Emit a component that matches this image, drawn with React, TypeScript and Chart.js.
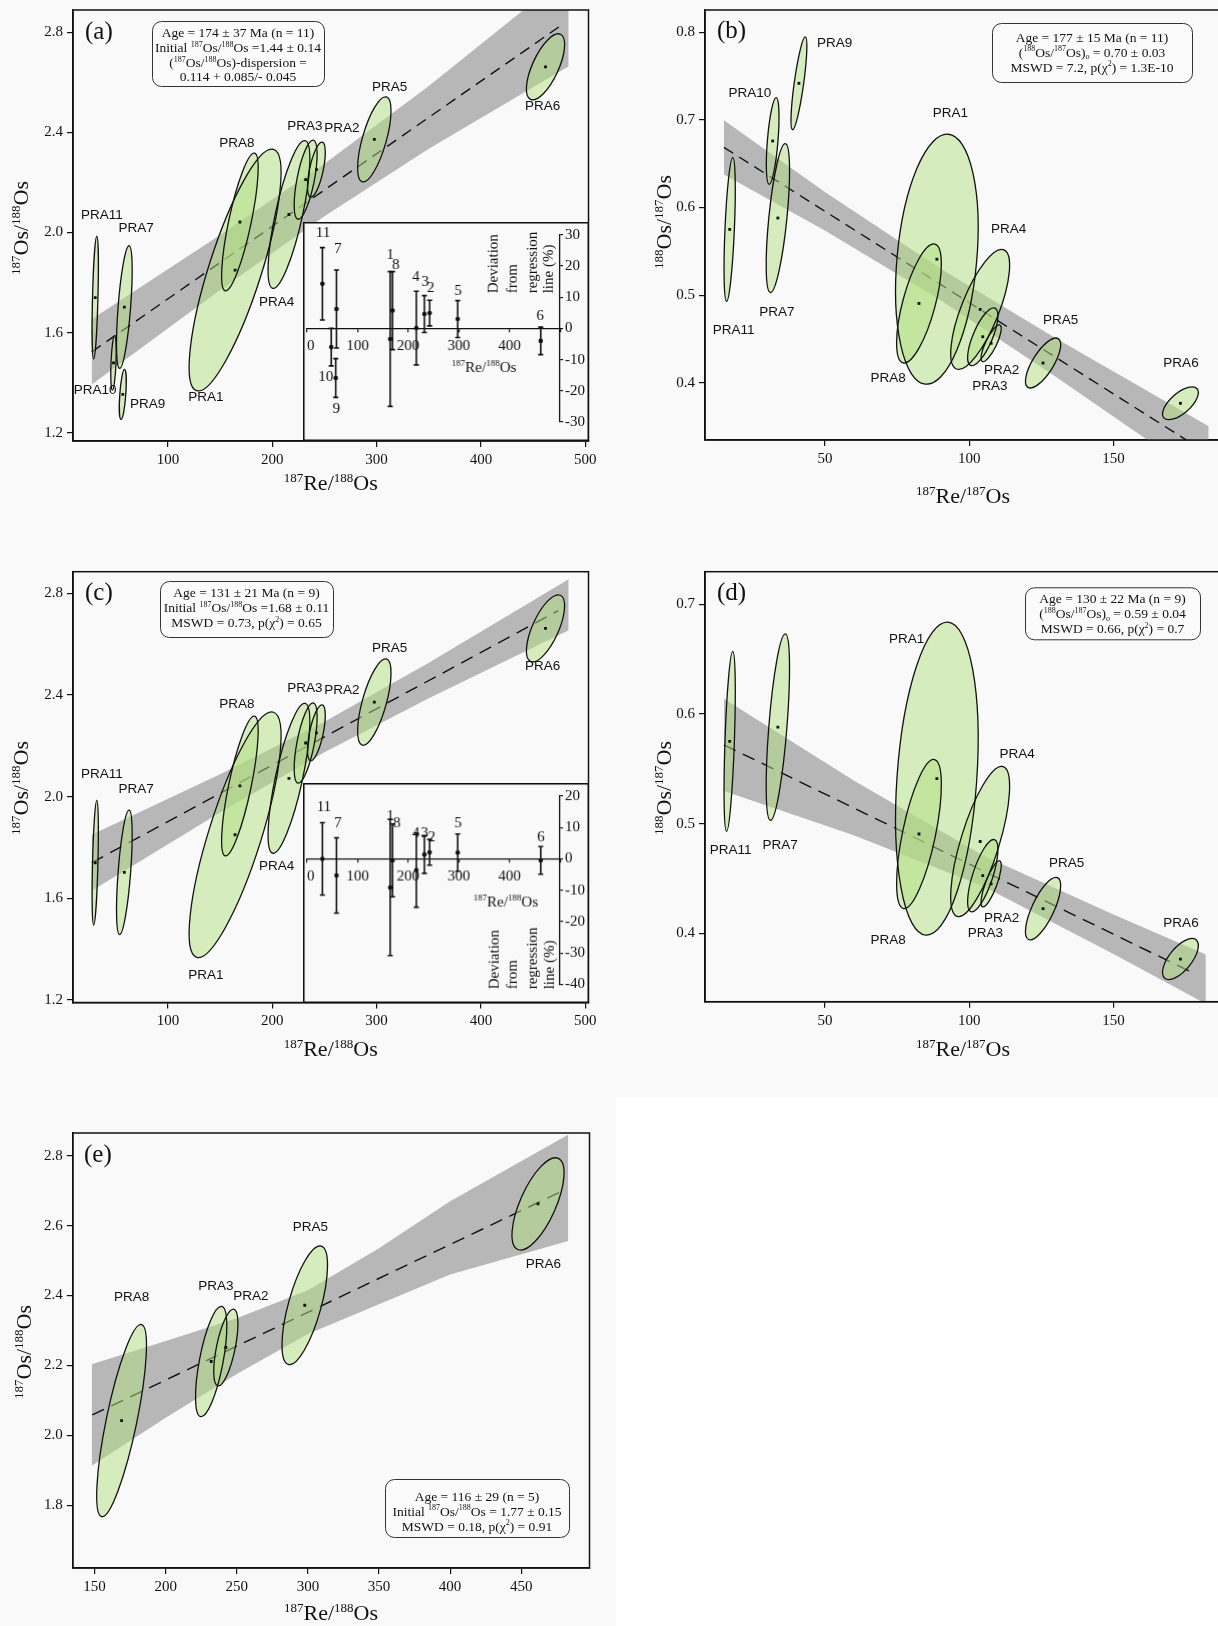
import React, { useEffect, useRef } from 'react';
import { Chart, registerables } from 'chart.js';

Chart.register(...registerables);

const BG = '#f9f9f9';
const INK = '#111111';
const BAND = '#b7b7b7';
const ELL_FILL = 'rgba(178, 224, 130, 0.5)';
const SERIF = '"Liberation Serif", "Times New Roman", Times, serif';
const SANS = '"Liberation Sans", Arial, Helvetica, sans-serif';

// ---------------- sample data ----------------
const sampleNames = ['PRA1', 'PRA2', 'PRA3', 'PRA4', 'PRA5', 'PRA6', 'PRA7', 'PRA8', 'PRA9', 'PRA10', 'PRA11'];

// 187Re/188Os vs 187Os/188Os (panels a, c, e)
const re188 = [164.4, 242.3, 232.0, 216.0, 297.8, 461.8, 58.3, 169.0, 56.8, 47.9, 30.4];
const os187to188 = [1.85, 2.251, 2.211, 2.072, 2.372, 2.662, 1.702, 2.042, 1.353, 1.479, 1.74];
const re188Err = [44, 8.5, 11, 20, 16, 18.3, 7.5, 17.5, 3.3, 2.6, 3.0];
const os187Err = [0.483, 0.11, 0.158, 0.295, 0.17, 0.132, 0.245, 0.275, 0.1, 0.109, 0.245];
const rho188 = [0.8, 0.62, 0.64, 0.75, 0.67, 0.67, 0.6, 0.78, 0.5, 0.4, 0.5];

// 187Re/187Os vs 188Os/187Os (panels b, d)
const re187 = [88.8, 107.6, 104.7, 103.8, 125.6, 173.2, 33.7, 82.6, 41.0, 31.9, 17.0];
const os188to187 = [0.541, 0.445, 0.4525, 0.4837, 0.4225, 0.3765, 0.588, 0.4905, 0.7418, 0.676, 0.575];
const re187Err = [14.3, 3.5, 5.25, 10.2, 6.1, 6.2, 4.05, 7.75, 2.75, 2.2, 1.95];
const os188Err = [0.1427, 0.021, 0.033, 0.0685, 0.0285, 0.0187, 0.085, 0.068, 0.053, 0.0495, 0.082];
const rho187 = [0.25, 0.8, 0.72, 0.73, 0.73, 0.65, 0.63, 0.66, 0.8, 0.55, 0.55];

const allSamples = [0, 1, 2, 3, 4, 5, 6, 7, 8, 9, 10];
const nineSamples = [0, 1, 2, 3, 4, 5, 6, 7, 10];
const fiveSamples = [7, 2, 1, 4, 5];

// tick values
const ticksRe188 = [100, 200, 300, 400, 500];
const ticksOs187 = [1.2, 1.6, 2.0, 2.4, 2.8];
const ticksRe187 = [50, 100, 150];
const ticksOs188B = [0.4, 0.5, 0.6, 0.7, 0.8];
const ticksOs188D = [0.4, 0.5, 0.6, 0.7];
const ticksRe188E = [150, 200, 250, 300, 350, 400, 450];
const ticksOs187E = [1.8, 2.0, 2.2, 2.4, 2.6, 2.8];

// regression lines and confidence bands
const regAX = [27, 479];
const regAY = [1.523, 2.834];
const bandAX = [27, 150, 250, 350, 484];
const bandALo = [1.393, 1.77, 2.065, 2.335, 2.664];
const bandAHi = [1.653, 1.99, 2.275, 2.585, 3.034];

const regBX = [15, 183];
const regBY = [0.6687, 0.3184];
const bandBX = [15, 50, 90, 130, 183];
const bandBLo = [0.6377, 0.5738, 0.4944, 0.4069, 0.2864];
const bandBHi = [0.6997, 0.6178, 0.5304, 0.4509, 0.3504];

const regCX = [27, 474];
const regCY = [1.74, 2.732];
const bandCX = [27, 150, 250, 350, 484];
const bandCLo = [1.63, 1.938, 2.175, 2.387, 2.655];
const bandCHi = [1.85, 2.088, 2.295, 2.527, 2.855];

const regDX = [15, 178.5];
const regDY = [0.5718, 0.3627];
const bandDX = [15, 60, 105, 150, 182];
const bandDLo = [0.5298, 0.4893, 0.4427, 0.3811, 0.3357];
const bandDHi = [0.6138, 0.5393, 0.4707, 0.4171, 0.3807];

const regEX = [148.4, 479.5];
const regEY = [2.058, 2.7];
const bandEX = [148, 200, 250, 300, 350, 400, 483];
const bandELo = [1.913, 2.05, 2.175, 2.29, 2.375, 2.46, 2.556];
const bandEHi = [2.203, 2.27, 2.335, 2.415, 2.535, 2.67, 2.86];

// deviation insets
const devA = [-3.4, 4.9, 4.6, 0.1, 3.0, -4.0, 6.2, 5.7, -15.9, -6.0, 14.3];
const devAErr = [21.6, 4.1, 5.9, 11.8, 5.9, 4.4, 12.5, 12.5, 6.2, 6.0, 11.6];
const devC = [-9.1, 2.1, 1.4, -3.6, 2.0, -0.5, -5.3, -0.5, 0.0];
const devCErr = [21.7, 4.1, 6.0, 11.8, 5.9, 4.4, 12.0, 11.6, 11.5];
const insetNumA = ['1', '2', '3', '4', '5', '6', '7', '8', '9', '10', '11'];
const insetNumC = ['1', '2', '3', '4', '5', '6', '7', '8', '11'];

// annotation positions (data coordinates)
const labelAX = [136.5, 266.7, 231.3, 204.2, 312.5, 459.1, 69.5, 166.2, 80.7, 30.4, 36.7];
const labelAY = [1.34, 2.415, 2.425, 1.721, 2.582, 2.505, 2.015, 2.358, 1.314, 1.37, 2.068];
const labelBX = [93.5, 111.2, 107.2, 113.7, 131.7, 173.4, 33.4, 71.9, 53.4, 24.0, 18.4];
const labelBY = [0.7075, 0.4145, 0.3954, 0.5751, 0.4716, 0.4221, 0.48, 0.405, 0.7874, 0.7303, 0.4601];
const labelCX = [136.5, 266.7, 231.3, 204.2, 312.5, 459.1, 69.5, 166.2, 36.7];
const labelCY = [1.298, 2.42, 2.426, 1.727, 2.584, 2.511, 2.029, 2.365, 2.089];
const labelDX = [78.3, 111.2, 105.6, 116.6, 133.8, 173.4, 34.5, 71.9, 17.3];
const labelDY = [0.668, 0.4137, 0.4, 0.5632, 0.4638, 0.409, 0.48, 0.394, 0.4754];
const labelEX = [176, 235.3, 259.9, 301.8, 465.6];
const labelEY = [2.396, 2.425, 2.399, 2.594, 2.488];
const numAX = [164.8, 244.6, 233.6, 215.4, 298.4, 460.5, 60.9, 175.3, 57.8, 37.1, 31.9];
const numAY = [23.4, 13, 14.8, 16.4, 11.9, 4.1, 25.5, 20.2, -25.9, -15.7, 30.4];
const numCX = [164.6, 246.3, 232.7, 215.2, 298.4, 461.9, 60.8, 177.4, 33.5];
const numCY = [13.6, 6.8, 8.2, 8.0, 11.3, 6.9, 11.3, 11.3, 16.6];

const boxALines = ['Age = 174 ± 37 Ma (n = 11)', 'Initial ^{187}Os/^{188}Os =1.44 ± 0.14', '(^{187}Os/^{188}Os)-dispersion =', '0.114 + 0.085/- 0.045'];
const boxBLines = ['Age = 177 ± 15 Ma (n = 11)', '(^{188}Os/^{187}Os)_{o} = 0.70 ± 0.03', 'MSWD = 7.2, p(χ^{2}) = 1.3E-10'];
const boxCLines = ['Age = 131 ± 21 Ma (n = 9)', 'Initial ^{187}Os/^{188}Os =1.68 ± 0.11', 'MSWD = 0.73, p(χ^{2}) = 0.65'];
const boxDLines = ['Age = 130 ± 22 Ma (n = 9)', '(^{188}Os/^{187}Os)_{o} = 0.59 ± 0.04', 'MSWD = 0.66, p(χ^{2}) = 0.7'];
const boxELines = ['Age = 116 ± 29 (n = 5)', 'Initial ^{187}Os/^{188}Os = 1.77 ± 0.15', 'MSWD = 0.18, p(χ^{2}) = 0.91'];
const devTitleLines = ['Deviation', 'from', 'regression', 'line (%)'];

// ---------------- rich text helper ----------------
function parseRich(s: string) {
  const parts: { t: string; k: number }[] = [];
  const re = /(\^\{[^}]*\}|_\{[^}]*\})/g;
  let last = 0;
  let m: RegExpExecArray | null;
  while ((m = re.exec(s))) {
    if (m.index > last) parts.push({ t: s.slice(last, m.index), k: 0 });
    parts.push({ t: m[0].slice(2, -1), k: m[0][0] === '^' ? 1 : 2 });
    last = m.index + m[0].length;
  }
  if (last < s.length) parts.push({ t: s.slice(last), k: 0 });
  return parts;
}

function drawRich(ctx: CanvasRenderingContext2D, s: string, x: number, y: number, size: number, family: string, align = 'center') {
  const parts = parseRich(s);
  const small = Math.round(size * 0.58);
  ctx.save();
  ctx.fillStyle = INK;
  ctx.textAlign = 'left';
  ctx.textBaseline = 'alphabetic';
  const widths = parts.map((p) => {
    ctx.font = `${p.k ? small : size}px ${family}`;
    return ctx.measureText(p.t).width;
  });
  const total = widths.reduce((a, b) => a + b, 0);
  let cx = align === 'center' ? x - total / 2 : x;
  const base = y + size * 0.34;
  parts.forEach((p, i) => {
    ctx.font = `${p.k ? small : size}px ${family}`;
    const dy = p.k === 1 ? -size * 0.38 : p.k === 2 ? size * 0.2 : 0;
    ctx.fillText(p.t, cx, base + dy);
    cx += widths[i];
  });
  ctx.restore();
}

function ellipsePath(xs: any, ys: any, cx: number, cy: number, sx: number, sy: number, rho: number) {
  const px = xs.getPixelForValue(cx);
  const py = ys.getPixelForValue(cy);
  const kx = xs.getPixelForValue(cx + 1) - px;
  const ky = ys.getPixelForValue(cy + 1) - py;
  const a = kx * sx;
  const b = ky * sy;
  const sxx = a * a;
  const syy = b * b;
  const sxy = rho * a * b;
  const tr = (sxx + syy) / 2;
  const d = Math.sqrt(((sxx - syy) / 2) ** 2 + sxy * sxy);
  const l1 = tr + d;
  const l2 = Math.max(tr - d, 0.01);
  const ang = 0.5 * Math.atan2(2 * sxy, sxx - syy);
  const path = new Path2D();
  path.ellipse(px, py, Math.sqrt(l1), Math.sqrt(l2), ang, 0, Math.PI * 2);
  return path;
}

function roundRectPath(ctx: CanvasRenderingContext2D, x: number, y: number, w: number, h: number, r: number) {
  ctx.beginPath();
  ctx.moveTo(x + r, y);
  ctx.arcTo(x + w, y, x + w, y + h, r);
  ctx.arcTo(x + w, y + h, x, y + h, r);
  ctx.arcTo(x, y + h, x, y, r);
  ctx.arcTo(x, y, x + w, y, r);
  ctx.closePath();
}

// ---------------- panel specs ----------------
const PANELS: any[] = [
  {
    key: 'a', letter: '(a)', left: 0, top: 0, width: 600, height: 545,
    area: { l: 73, t: 10, r: 588.5, b: 441 }, dash: [11, 7],
    x: { min: 9.1, max: 503, ticks: ticksRe188, dec: 0 }, y: { min: 1.167, max: 2.889, ticks: ticksOs187, dec: 1 },
    xTitle: '^{187}Re/^{188}Os', xTitleAt: [330.7, 483], yTitle: '^{187}Os/^{188}Os', yTitleAt: [21, 228],
    letterAt: [85, 32.5],
    ex: re188, ey: os187to188, esx: re188Err, esy: os187Err, erho: rho188, idx: allSamples,
    labX: labelAX, labY: labelAY,
    regX: regAX, regY: regAY, bandX: bandAX, bandLo: bandALo, bandHi: bandAHi,
    box: { x: 152, y: 21, w: 172, h: 65, lines: boxALines, y0: 32.5, gap: 14.8 },
  },
  {
    key: 'b', letter: '(b)', left: 610, top: 0, width: 620, height: 545,
    area: { l: 95, t: 10, r: 614, b: 440 }, dash: [11, 7],
    x: { min: 8.45, max: 188.3, ticks: ticksRe187, dec: 0 }, y: { min: 0.3346, max: 0.8255, ticks: ticksOs188B, dec: 1 },
    xTitle: '^{187}Re/^{187}Os', xTitleAt: [353, 496], yTitle: '^{188}Os/^{187}Os', yTitleAt: [54, 222],
    letterAt: [107, 31.5],
    ex: re187, ey: os188to187, esx: re187Err, esy: os188Err, erho: rho187, idx: allSamples,
    labX: labelBX, labY: labelBY,
    regX: regBX, regY: regBY, bandX: bandBX, bandLo: bandBLo, bandHi: bandBHi,
    box: { x: 382, y: 23, w: 200, h: 59, lines: boxBLines, y0: 37, gap: 15 },
  },
  {
    key: 'c', letter: '(c)', left: 0, top: 560, width: 600, height: 545,
    area: { l: 73, t: 11.7, r: 588.5, b: 442.5 }, dash: [13, 8],
    x: { min: 9.1, max: 503, ticks: ticksRe188, dec: 0 }, y: { min: 1.19, max: 2.885, ticks: ticksOs187, dec: 1 },
    xTitle: '^{187}Re/^{188}Os', xTitleAt: [330.7, 489], yTitle: '^{187}Os/^{188}Os', yTitleAt: [21, 228],
    letterAt: [85, 33.3],
    ex: re188, ey: os187to188, esx: re188Err, esy: os187Err, erho: rho188, idx: nineSamples,
    labX: labelCX, labY: labelCY,
    regX: regCX, regY: regCY, bandX: bandCX, bandLo: bandCLo, bandHi: bandCHi,
    box: { x: 160, y: 21, w: 173, h: 56, lines: boxCLines, y0: 32.5, gap: 15.2 },
  },
  {
    key: 'd', letter: '(d)', left: 610, top: 560, width: 620, height: 545,
    area: { l: 95, t: 11.7, r: 614, b: 441.7 }, dash: [13, 8],
    x: { min: 8.45, max: 188.3, ticks: ticksRe187, dec: 0 }, y: { min: 0.3376, max: 0.7297, ticks: ticksOs188D, dec: 1 },
    xTitle: '^{187}Re/^{187}Os', xTitleAt: [353, 489], yTitle: '^{188}Os/^{187}Os', yTitleAt: [54, 228],
    letterAt: [107, 33],
    ex: re187, ey: os188to187, esx: re187Err, esy: os188Err, erho: rho187, idx: nineSamples,
    labX: labelDX, labY: labelDY,
    regX: regDX, regY: regDY, bandX: bandDX, bandLo: bandDLo, bandHi: bandDHi,
    box: { x: 415, y: 27.3, w: 175, h: 52, lines: boxDLines, y0: 38, gap: 15.3 },
  },
  {
    key: 'e', letter: '(e)', left: 0, top: 1097, width: 610, height: 529,
    area: { l: 72.8, t: 36, r: 589.5, b: 471 }, dash: [13, 8],
    x: { min: 134.7, max: 498, ticks: ticksRe188E, dec: 0 }, y: { min: 1.62, max: 2.865, ticks: ticksOs187E, dec: 1 },
    xTitle: '^{187}Re/^{188}Os', xTitleAt: [331, 516], yTitle: '^{187}Os/^{188}Os', yTitleAt: [24, 255],
    letterAt: [84, 58],
    ex: re188, ey: os187to188, esx: re188Err, esy: os187Err, erho: rho188, idx: fiveSamples,
    labX: labelEX, labY: labelEY,
    regX: regEX, regY: regEY, bandX: bandEX, bandLo: bandELo, bandHi: bandEHi,
    box: { x: 385, y: 382, w: 184, h: 58, lines: boxELines, y0: 399, gap: 15 },
  },
];

const INSETS: any[] = [
  {
    key: 'ia', left: 303, top: 222, width: 285.5, height: 219, padTop: 12.8, padBottom: 19, yAxisW: 28.9,
    yMin: -30, yMax: 30, ex: re188, idx: allSamples, dev: devA, err: devAErr,
    nums: insetNumA, numX: numAX, numY: numAY,
    xTitleAt: [180.3, 144.7], colX: [190, 209, 229, 245], colBottom: 71.3,
  },
  {
    key: 'ic', left: 303, top: 783, width: 285.5, height: 219.5, padTop: 13, padBottom: 18.5, yAxisW: 28.9,
    yMin: -40, yMax: 20, ex: re188, idx: nineSamples, dev: devC, err: devCErr,
    nums: insetNumC, numX: numCX, numY: numCY,
    xTitleAt: [202, 117.7], colX: [191.3, 209.3, 228.7, 246.3], colBottom: 205.3,
  },
];

// ---------------- chart builders ----------------
function panelPlugin(p: any) {
  return {
    id: 'panelDeco' + p.key,
    afterDatasetDraw(chart: any, args: any) {
      if (args.index !== 1) return;
      const ctx = chart.ctx as CanvasRenderingContext2D;
      const a = chart.chartArea;
      const xs = chart.scales.x;
      const ys = chart.scales.y;
      ctx.save();
      ctx.beginPath();
      ctx.rect(a.left, a.top, a.right - a.left, a.bottom - a.top);
      ctx.clip();
      const paths = p.idx.map((i: number) => ellipsePath(xs, ys, p.ex[i], p.ey[i], p.esx[i], p.esy[i], p.erho[i]));
      ctx.fillStyle = ELL_FILL;
      paths.forEach((path: Path2D) => ctx.fill(path));
      ctx.strokeStyle = INK;
      ctx.lineWidth = 1.3;
      paths.forEach((path: Path2D) => ctx.stroke(path));
      ctx.restore();
    },
    afterDraw(chart: any) {
      const ctx = chart.ctx as CanvasRenderingContext2D;
      const a = chart.chartArea;
      const xs = chart.scales.x;
      const ys = chart.scales.y;
      ctx.save();
      ctx.strokeStyle = INK;
      ctx.lineWidth = 1.5;
      ctx.strokeRect(a.left, a.top, a.right - a.left, a.bottom - a.top);
      // sample labels
      ctx.fillStyle = INK;
      ctx.font = `13.5px ${SANS}`;
      ctx.textAlign = 'center';
      ctx.textBaseline = 'middle';
      p.idx.forEach((i: number, k: number) => {
        ctx.fillText(sampleNames[i], xs.getPixelForValue(p.labX[k]), ys.getPixelForValue(p.labY[k]));
      });
      // statistics box
      const b = p.box;
      roundRectPath(ctx, b.x + 0.5, b.y + 0.5, b.w, b.h, 9);
      ctx.fillStyle = '#fbfbfb';
      ctx.fill();
      ctx.strokeStyle = '#333';
      ctx.lineWidth = 1;
      ctx.stroke();
      b.lines.forEach((ln: string, k: number) => drawRich(ctx, ln, b.x + b.w / 2, b.y0 + k * b.gap, 13.5, SERIF));
      // panel letter
      ctx.fillStyle = INK;
      ctx.font = `25px ${SERIF}`;
      ctx.textAlign = 'left';
      ctx.textBaseline = 'middle';
      ctx.fillText(p.letter, p.letterAt[0], p.letterAt[1]);
      // axis titles
      drawRich(ctx, p.xTitle, p.xTitleAt[0], p.xTitleAt[1], 22, SERIF);
      ctx.translate(p.yTitleAt[0], p.yTitleAt[1]);
      ctx.rotate(-Math.PI / 2);
      drawRich(ctx, p.yTitle, 0, 0, 22, SERIF);
      ctx.restore();
    },
  };
}

function buildPanel(canvas: HTMLCanvasElement, p: any) {
  const XH = p.height - p.area.b;
  const tickFont = { family: SERIF, size: 15 };
  const pts = p.idx.map((i: number) => ({ x: p.ex[i], y: p.ey[i] }));
  const reg = p.regX.map((x: number, i: number) => ({ x, y: p.regY[i] }));
  const lo = p.bandX.map((x: number, i: number) => ({ x, y: p.bandLo[i] }));
  const hi = p.bandX.map((x: number, i: number) => ({ x, y: p.bandHi[i] }));
  return new Chart(canvas, {
    type: 'scatter',
    data: {
      datasets: [
        { type: 'scatter', data: pts, pointStyle: 'rect', pointRadius: 2, backgroundColor: INK, borderColor: INK, borderWidth: 0 },
        { type: 'line', data: reg, borderColor: INK, borderWidth: 1.4, borderDash: p.dash, pointRadius: 0, fill: false },
        { type: 'line', data: lo, borderColor: 'rgba(0,0,0,0)', borderWidth: 1, pointRadius: 0, fill: false },
        { type: 'line', data: hi, borderColor: 'rgba(0,0,0,0)', borderWidth: 1, pointRadius: 0, fill: '-1', backgroundColor: BAND },
      ],
    } as any,
    options: {
      animation: false,
      responsive: false,
      devicePixelRatio: 1,
      events: [],
      layout: { padding: { left: 0, top: p.area.t, right: p.width - p.area.r, bottom: 0 } },
      plugins: { legend: { display: false }, tooltip: { enabled: false } },
      scales: {
        x: {
          type: 'linear', position: 'bottom', min: p.x.min, max: p.x.max,
          afterBuildTicks: (s: any) => { s.ticks = p.x.ticks.map((v: number) => ({ value: v })); },
          afterFit: (s: any) => { s.height = XH; s.paddingLeft = 0; s.paddingRight = 0; },
          ticks: { autoSkip: false, maxRotation: 0, padding: 4, color: INK, font: tickFont, callback: (v: any) => Number(v).toFixed(p.x.dec) },
          grid: { display: true, drawOnChartArea: false, drawTicks: true, tickLength: 6, color: INK, lineWidth: 1.2 },
          border: { display: true, color: INK, width: 1.5 },
        },
        y: {
          type: 'linear', position: 'left', min: p.y.min, max: p.y.max,
          afterBuildTicks: (s: any) => { s.ticks = p.y.ticks.map((v: number) => ({ value: v })); },
          afterFit: (s: any) => { s.width = p.area.l; s.paddingTop = 0; s.paddingBottom = 0; },
          ticks: { autoSkip: false, padding: 4, color: INK, font: tickFont, callback: (v: any) => Number(v).toFixed(p.y.dec) },
          grid: { display: true, drawOnChartArea: false, drawTicks: true, tickLength: 6, color: INK, lineWidth: 1.2 },
          border: { display: true, color: INK, width: 1.5 },
        },
      },
    } as any,
    plugins: [panelPlugin(p)],
  });
}

function insetPlugin(s: any) {
  return {
    id: 'insetDeco' + s.key,
    beforeDraw(chart: any) {
      const ctx = chart.ctx as CanvasRenderingContext2D;
      ctx.save();
      ctx.fillStyle = BG;
      ctx.fillRect(0, 0, chart.width, chart.height);
      ctx.restore();
    },
    beforeDatasetsDraw(chart: any) {
      const ctx = chart.ctx as CanvasRenderingContext2D;
      const xs = chart.scales.x;
      const ys = chart.scales.y;
      ctx.save();
      ctx.strokeStyle = INK;
      ctx.lineWidth = 1.6;
      s.idx.forEach((i: number, k: number) => {
        const x = xs.getPixelForValue(s.ex[i]);
        const y1 = ys.getPixelForValue(s.dev[k] + s.err[k]);
        const y2 = ys.getPixelForValue(s.dev[k] - s.err[k]);
        ctx.beginPath();
        ctx.moveTo(x, y1); ctx.lineTo(x, y2);
        ctx.moveTo(x - 2.5, y1); ctx.lineTo(x + 2.5, y1);
        ctx.moveTo(x - 2.5, y2); ctx.lineTo(x + 2.5, y2);
        ctx.stroke();
      });
      ctx.restore();
    },
    afterDraw(chart: any) {
      const ctx = chart.ctx as CanvasRenderingContext2D;
      const xs = chart.scales.x;
      const ys = chart.scales.y;
      ctx.save();
      ctx.strokeStyle = INK;
      ctx.lineWidth = 1.5;
      ctx.strokeRect(0.75, 0.75, chart.width - 1.5, chart.height - 1.5);
      ctx.fillStyle = INK;
      ctx.font = `15px ${SERIF}`;
      ctx.textAlign = 'center';
      ctx.textBaseline = 'middle';
      s.nums.forEach((n: string, k: number) => {
        ctx.fillText(n, xs.getPixelForValue(s.numX[k]), ys.getPixelForValue(s.numY[k]));
      });
      drawRich(ctx, '^{187}Re/^{188}Os', s.xTitleAt[0], s.xTitleAt[1], 15, SERIF);
      devTitleLines.forEach((ln, k) => {
        ctx.save();
        ctx.translate(s.colX[k], s.colBottom);
        ctx.rotate(-Math.PI / 2);
        ctx.font = `15px ${SERIF}`;
        ctx.textAlign = 'left';
        ctx.textBaseline = 'middle';
        ctx.fillStyle = INK;
        ctx.fillText(ln, 0, 0);
        ctx.restore();
      });
      ctx.restore();
    },
  };
}

function buildInset(canvas: HTMLCanvasElement, s: any) {
  const font = { family: SERIF, size: 15 };
  const pts = s.idx.map((i: number, k: number) => ({ x: s.ex[i], y: s.dev[k] }));
  return new Chart(canvas, {
    type: 'scatter',
    data: { datasets: [{ data: pts, pointStyle: 'circle', pointRadius: 2.3, backgroundColor: INK, borderWidth: 0 }] } as any,
    options: {
      animation: false,
      responsive: false,
      devicePixelRatio: 1,
      events: [],
      layout: { padding: { left: 0, right: 0, top: s.padTop, bottom: s.padBottom } },
      plugins: { legend: { display: false }, tooltip: { enabled: false } },
      scales: {
        x: {
          type: 'linear', position: { y: 0 }, min: 0, max: 500,
          afterFit: (sc: any) => { sc.height = 0; sc.paddingLeft = 0; sc.paddingRight = 0; },
          ticks: { stepSize: 100, align: 'inner', autoSkip: false, maxRotation: 0, padding: 6, color: INK, font, callback: (v: any) => (Number(v) === 500 ? '' : String(v)) },
          grid: { display: true, drawOnChartArea: false, tickLength: 3, color: INK, lineWidth: 1.2 },
          border: { display: true, color: INK, width: 1.3 },
        },
        y: {
          type: 'linear', position: 'right', min: s.yMin, max: s.yMax,
          afterFit: (sc: any) => { sc.width = s.yAxisW; sc.paddingTop = 0; sc.paddingBottom = 0; },
          ticks: { stepSize: 10, autoSkip: false, padding: 2, color: INK, font },
          grid: { display: true, drawOnChartArea: false, tickLength: 3, color: INK, lineWidth: 1.2 },
          border: { display: true, color: INK, width: 1.3 },
        },
      },
    } as any,
    plugins: [insetPlugin(s)],
  });
}

function ChartCanvas({ spec, build }: { spec: any; build: (c: HTMLCanvasElement, s: any) => Chart }) {
  const ref = useRef<HTMLCanvasElement | null>(null);
  useEffect(() => {
    if (!ref.current) return undefined;
    const chart = build(ref.current, spec);
    return () => chart.destroy();
  }, []);
  return (
    <canvas
      ref={ref}
      width={spec.width}
      height={spec.height}
      style={{ position: 'absolute', left: spec.left, top: spec.top, width: spec.width, height: spec.height }}
    />
  );
}

export default function App() {
  return (
    <div style={{ position: 'absolute', left: 0, top: 0, width: 1218, height: 1626, overflow: 'hidden', background: BG }}>
      <div style={{ position: 'absolute', left: 616, top: 1097, width: 602, height: 529, background: '#ffffff' }} />
      {PANELS.map((p) => (
        <ChartCanvas key={p.key} spec={p} build={buildPanel} />
      ))}
      {INSETS.map((s) => (
        <ChartCanvas key={s.key} spec={s} build={buildInset} />
      ))}
    </div>
  );
}
